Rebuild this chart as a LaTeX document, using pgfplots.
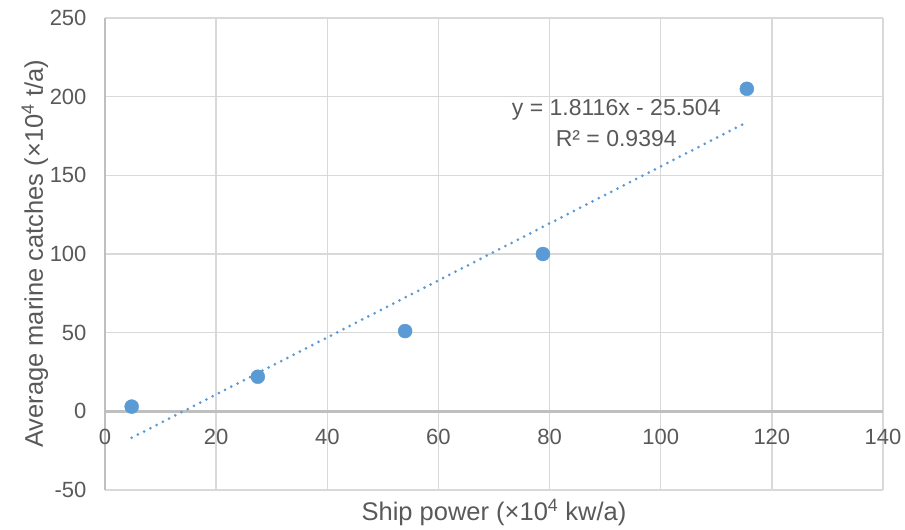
\documentclass[border=0pt]{standalone}
\usepackage{pgfplots}
\pgfplotsset{compat=1.18}
\usetikzlibrary{calc}
\usepackage{fontspec}
\setmainfont{Liberation Sans}
\definecolor{txt}{HTML}{595959}
\definecolor{gridc}{HTML}{D9D9D9}
\definecolor{axc}{HTML}{BFBFBF}
\definecolor{blu}{HTML}{5B9BD5}
\begin{document}
\begin{tikzpicture}
\begin{axis}[
  name=ax,
  scale only axis,
  width=778pt, height=472pt,
  xmin=0, xmax=140, ymin=-50, ymax=250,
  xtick={20,40,...,140}, ytick={-50,50,100,...,250},
  extra x ticks={0}, extra y ticks={0},
  extra x tick style={major grid style={axc, line width=2.4pt}},
  extra y tick style={major grid style={axc, line width=2.4pt}},
  axis line style={draw=none},
  major tick length=0pt,
  grid=major,
  major grid style={gridc, line width=1.3pt},
  /pgf/number format/assume math mode=true,
  tick label style={font=\fontsize{22}{26}\selectfont, text=txt},
  xticklabel style={anchor=north, yshift=64pt},
  yticklabel style={anchor=east, xshift=-15pt},
  xlabel={Ship power (×10\textsuperscript{4} kw/a)},
  ylabel={Average marine catches (×10\textsuperscript{4} t/a)},
  label style={font=\fontsize{25.5}{30}\selectfont, text=txt},
  xlabel style={at={(axis description cs:0.5,0)}, anchor=north, yshift=-6pt},
  ylabel style={at={(axis description cs:-0.09,0.5)}, anchor=center, rotate=0},
  clip=false,
]
\addplot[only marks, mark=*, mark size=7pt, blu, mark options={draw=blu, fill=blu}]
  coordinates {(4.8,3) (27.5,22) (54,51) (78.8,100) (115.5,205)};
\addplot[blu, line width=3pt, dash pattern=on 0pt off 7pt, line cap=round]
  coordinates {(4.8,-16.81) (115.5,183.74)};
\node[font=\fontsize{23}{27}\selectfont, text=txt, align=center] at (axis cs:92,183)
  {y = 1.8116x - 25.504\\[4pt]R² = 0.9394};
\end{axis}
\pgfresetboundingbox
\path ($(ax.south west)+(-105pt,-40pt)$) rectangle ($(ax.north east)+(22pt,18pt)$);
\end{tikzpicture}
\end{document}
